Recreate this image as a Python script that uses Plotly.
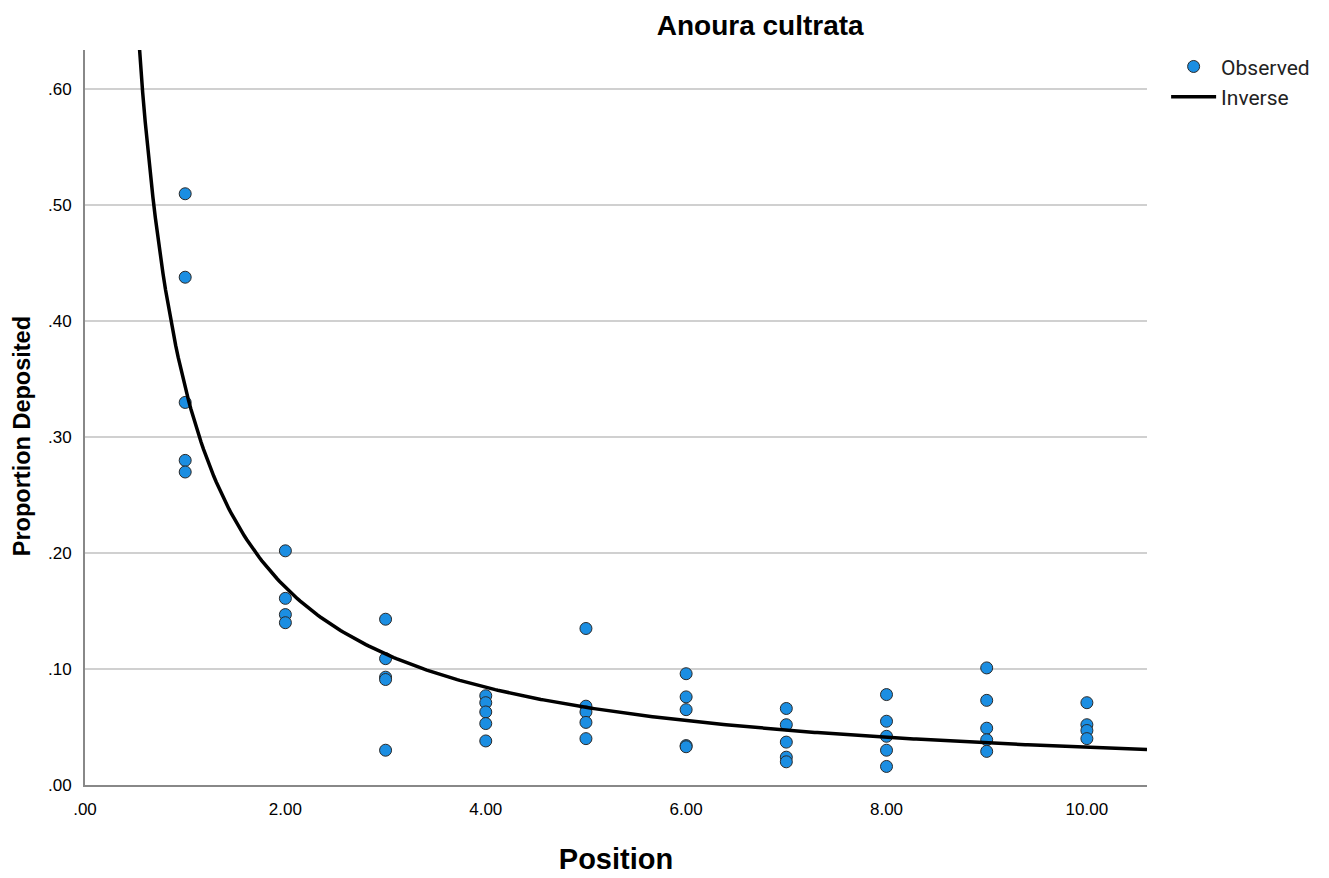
import numpy as np
import plotly.graph_objects as go

# Observed data (position, proportion deposited)
pos_1 = [1, 1, 1, 1, 1]
val_1 = [0.510, 0.438, 0.330, 0.280, 0.270]
pos_2 = [2, 2, 2, 2]
val_2 = [0.202, 0.161, 0.147, 0.140]
pos_3 = [3, 3, 3, 3, 3]
val_3 = [0.143, 0.109, 0.093, 0.091, 0.030]
pos_4 = [4, 4, 4, 4, 4]
val_4 = [0.077, 0.071, 0.063, 0.053, 0.038]
pos_5 = [5, 5, 5, 5, 5]
val_5 = [0.135, 0.068, 0.063, 0.054, 0.040]
pos_6 = [6, 6, 6, 6, 6]
val_6 = [0.096, 0.076, 0.065, 0.034, 0.033]
pos_7 = [7, 7, 7, 7, 7]
val_7 = [0.066, 0.052, 0.037, 0.024, 0.020]
pos_8 = [8, 8, 8, 8, 8]
val_8 = [0.078, 0.055, 0.042, 0.030, 0.016]
pos_9 = [9, 9, 9, 9, 9]
val_9 = [0.101, 0.073, 0.049, 0.039, 0.029]
pos_10 = [10, 10, 10, 10]
val_10 = [0.071, 0.052, 0.047, 0.040]

positions = pos_1 + pos_2 + pos_3 + pos_4 + pos_5 + pos_6 + pos_7 + pos_8 + pos_9 + pos_10
values = val_1 + val_2 + val_3 + val_4 + val_5 + val_6 + val_7 + val_8 + val_9 + val_10

# Inverse model coefficients: y = b0 + b1 / x
b0 = -0.002
b1 = 0.345

x_ticks = [0, 2, 4, 6, 8, 10]
x_tick_labels = [".00", "2.00", "4.00", "6.00", "8.00", "10.00"]
y_ticks = [0, 0.1, 0.2, 0.3, 0.4, 0.5, 0.6]
y_tick_labels = [".00", ".10", ".20", ".30", ".40", ".50", ".60"]

x_range = [0, 10.6]
y_range = [0, 0.634]

curve_x = np.linspace(0.5, x_range[1], 400)
curve_y = b0 + b1 / curve_x

fig = go.Figure()
fig.add_trace(go.Scatter(
    x=positions, y=values, mode="markers", name="Observed",
    marker=dict(size=12, color="#1b8ee2", line=dict(color="#2a2a2a", width=1)),
))
fig.add_trace(go.Scatter(
    x=curve_x, y=curve_y, mode="lines", name="Inverse",
    line=dict(color="black", width=3.5),
))

font_main = "Liberation Sans, Arial, sans-serif"

fig.update_layout(
    width=1329, height=878,
    margin=dict(l=85, r=182, t=50, b=93),
    paper_bgcolor="white", plot_bgcolor="white",
    font=dict(family=font_main, size=17, color="black"),
    title=dict(text="<b>Anoura cultrata</b>", x=0.572, xanchor="center", y=0.971, yanchor="middle",
               font=dict(size=28, family=font_main, color="black")),
    showlegend=True,
    legend=dict(x=1.018, y=1.005, xanchor="left", yanchor="top",
                font=dict(size=21, family="Roboto, sans-serif", color="#222"),
                bgcolor="rgba(0,0,0,0)", tracegroupgap=0, itemwidth=45),
    xaxis=dict(range=x_range, tickmode="array", tickvals=x_ticks, ticktext=x_tick_labels,
               showgrid=False, zeroline=False, showline=True, linecolor="#888", linewidth=2,
               ticks="outside", ticklen=8, tickcolor="rgba(0,0,0,0)", tickfont=dict(size=17),
               automargin=False,
               title=dict(text="<b>Position</b>", font=dict(size=29), standoff=30)),
    yaxis=dict(range=y_range, tickmode="array", tickvals=y_ticks, ticktext=y_tick_labels,
               showgrid=True, gridcolor="#d0d0d0", gridwidth=2, zeroline=False,
               showline=True, linecolor="#888", linewidth=2,
               ticks="outside", ticklen=8, tickcolor="rgba(0,0,0,0)", tickfont=dict(size=17),
               automargin=False),
    annotations=[dict(text="<b>Proportion Deposited</b>", textangle=-90,
                      xref="paper", yref="paper", x=-0.059, y=0.475,
                      xanchor="center", yanchor="middle", showarrow=False,
                      font=dict(size=23.5, family=font_main, color="black"))],
)

fig.write_html("out.html")
